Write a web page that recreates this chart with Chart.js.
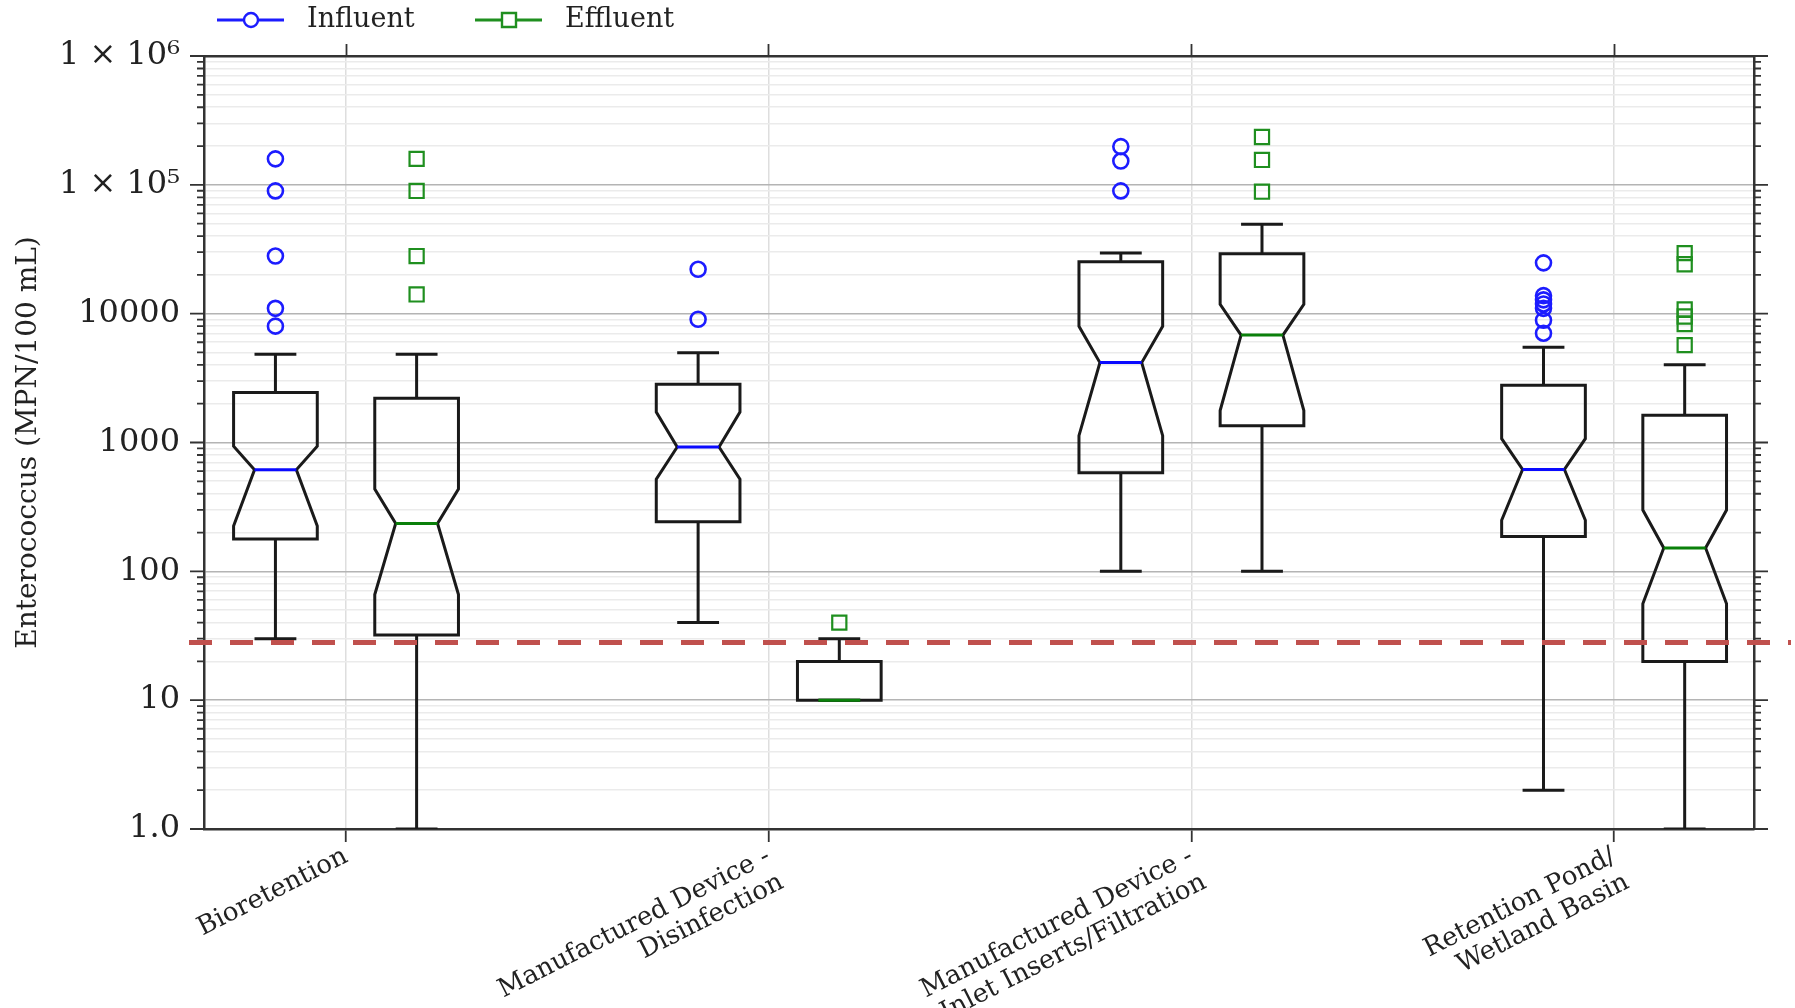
<!DOCTYPE html>
<html>
<head>
<meta charset="utf-8">
<script src="https://cdn.jsdelivr.net/npm/chart.js@4.4.1/dist/chart.umd.min.js"></script>
<style>
body{margin:0;background:#fff}
#wrap{width:1795px;height:1008px;position:relative}
</style>
</head>
<body>
<div id="wrap"><canvas id="myChart"></canvas></div>
<script>
const categories=[['Bioretention'],['Manufactured Device -','Disinfection'],['Manufactured Device -','Inlet Inserts/Filtration'],['Retention Pond/','Wetland Basin']];

// influent boxes (MPN/100 mL), one value per category
const infLow=[30,40,100,2];
const infQ1=[178,243,583,186];
const infNotchLo=[225,518,1130,249];
const infMedian=[614,923,4170,617];
const infNotchHi=[935,1725,7980,1070];
const infQ3=[2440,2830,25300,2780];
const infHigh=[4850,4980,29600,5490];
const infOutliers=[[159000,89700,28000,11000,8000],[22100,9040],[198000,153000,89700],[24800,13800,12800,11900,11000,8900,7050]];

// effluent boxes
const effLow=[1,10,100,1];
const effQ1=[32,10,1350,20];
const effNotchLo=[66,null,1770,56];
const effMedian=[235,10,6820,152];
const effNotchHi=[435,null,11800,299];
const effQ3=[2210,20,29200,1630];
const effHigh=[4850,30,49400,4010];
const effOutliers=[[159000,89700,28000,14100],[40],[235000,156000,88500],[29500,24200,10800,9500,8300,5700]];

const threshold=28;
const decades=[1,10,100,1000,10000,100000,1000000];
const decadeLabels=['1.0','10','100','1000','10000','1 × 10⁵','1 × 10⁶'];

const FONT='"DejaVu Serif"';
const shift=0.167, boxHalf=0.099;
const blue='#1c1cff', green='#1f8f1f';

let yTicks=[];
decades.forEach((d,k)=>{
    if(k<decades.length-1){ for(let m=1;m<10;m++) yTicks.push(d*m); }
    else yTicks.push(d);
});

function outlierPoints(list,dx){
    let pts=[];
    list.forEach((vals,i)=>vals.forEach(v=>pts.push({x:i+1+dx,y:v})));
    return pts;
}

function drawBox(ctx,xs,ys,cx,s,medColor){
    let x=xs.getPixelForValue(cx);
    let hw=xs.getPixelForValue(cx+boxHalf)-x;
    let l=x-hw,r=x+hw;
    let py=v=>ys.getPixelForValue(v);
    ctx.strokeStyle='#1a1a1a';
    ctx.lineWidth=3;
    ctx.lineJoin='miter';
    ctx.beginPath();
    ctx.moveTo(x,py(s.q3)); ctx.lineTo(x,py(s.high));
    ctx.moveTo(x-hw/2,py(s.high)); ctx.lineTo(x+hw/2,py(s.high));
    ctx.moveTo(x,py(s.q1)); ctx.lineTo(x,py(s.low));
    ctx.moveTo(x-hw/2,py(s.low)); ctx.lineTo(x+hw/2,py(s.low));
    ctx.stroke();
    ctx.beginPath();
    if(s.nlo==null){
        ctx.rect(l,py(s.q3),2*hw,py(s.q1)-py(s.q3));
    }else{
        ctx.moveTo(l,py(s.q1)); ctx.lineTo(r,py(s.q1));
        ctx.lineTo(r,py(s.nlo)); ctx.lineTo(x+hw/2,py(s.med)); ctx.lineTo(r,py(s.nhi));
        ctx.lineTo(r,py(s.q3)); ctx.lineTo(l,py(s.q3));
        ctx.lineTo(l,py(s.nhi)); ctx.lineTo(x-hw/2,py(s.med)); ctx.lineTo(l,py(s.nlo));
        ctx.closePath();
    }
    ctx.stroke();
    ctx.strokeStyle=medColor;
    ctx.beginPath();
    ctx.moveTo(x-hw/2,py(s.med)); ctx.lineTo(x+hw/2,py(s.med));
    ctx.stroke();
}

const boxPlugin={
    id:'boxes',
    beforeDatasetsDraw(chart){
        const ctx=chart.ctx, xs=chart.scales.x, ys=chart.scales.y, a=chart.chartArea;
        ctx.save();
        ctx.beginPath(); ctx.rect(a.left,a.top,a.width,a.height); ctx.clip();
        categories.forEach((c,i)=>{
            drawBox(ctx,xs,ys,i+1-shift,{low:infLow[i],q1:infQ1[i],nlo:infNotchLo[i],med:infMedian[i],nhi:infNotchHi[i],q3:infQ3[i],high:infHigh[i]},'#0a0aff');
            drawBox(ctx,xs,ys,i+1+shift,{low:effLow[i],q1:effQ1[i],nlo:effNotchLo[i],med:effMedian[i],nhi:effNotchHi[i],q3:effQ3[i],high:effHigh[i]},'#0a800a');
        });
        ctx.restore();
    },
    afterDatasetsDraw(chart){
        // threshold line, runs a bit past the frame like the original
        const ctx=chart.ctx, a=chart.chartArea;
        let y=chart.scales.y.getPixelForValue(threshold);
        ctx.save();
        ctx.strokeStyle='#c0504d';
        ctx.lineWidth=5;
        ctx.setLineDash([23,18]);
        ctx.beginPath();
        ctx.moveTo(a.left-15,y); ctx.lineTo(chart.width-4,y);
        ctx.stroke();
        ctx.restore();
    },
    afterDraw(chart){
        const ctx=chart.ctx, a=chart.chartArea;
        ctx.save();
        // log tick marks, long at decades
        ctx.strokeStyle='#333';
        ctx.lineWidth=1.8;
        ctx.beginPath();
        ['y','y2'].forEach(id=>{
            const s=chart.scales[id];
            const left=id==='y';
            const edge=left?a.left:a.right;
            s.ticks.forEach(t=>{
                let p=s.getPixelForValue(t.value);
                let len=decades.includes(t.value)?14:7;
                ctx.moveTo(edge,p); ctx.lineTo(left?edge-len:edge+len,p);
            });
        });
        ctx.stroke();
        // legend
        const items=[{ds:0,x:217},{ds:1,x:475}];
        ctx.font='27px '+FONT;
        ctx.textBaseline='middle';
        ctx.textAlign='left';
        items.forEach(it=>{
            const d=chart.data.datasets[it.ds];
            const y=20;
            ctx.strokeStyle=d.borderColor;
            ctx.lineWidth=3;
            ctx.beginPath(); ctx.moveTo(it.x,y); ctx.lineTo(it.x+67,y); ctx.stroke();
            let cx=it.x+34;
            ctx.fillStyle='#fff';
            ctx.lineWidth=2.4;
            ctx.beginPath();
            if(d.pointStyle==='circle') ctx.arc(cx,y,7,0,Math.PI*2);
            else ctx.rect(cx-7,y-7,14,14);
            ctx.fill(); ctx.stroke();
            ctx.fillStyle='#222';
            ctx.fillText(d.label,it.x+90,y);
        });
        ctx.restore();
    }
};

const xMin=0.664, xMax=4.331;
const catTicks=s=>{ s.ticks=categories.map((c,i)=>({value:i+1})); };
const logTicks=s=>{ s.ticks=yTicks.map(v=>({value:v})); };

Chart.defaults.font.family=FONT;
const ctx=document.getElementById('myChart').getContext('2d');
const myChart=new Chart(ctx,{
    type:'scatter',
    data:{
        datasets:[{
            label:'Influent',
            data:outlierPoints(infOutliers,-shift),
            pointStyle:'circle',
            pointRadius:7.5,
            borderWidth:2.6,
            borderColor:blue,
            backgroundColor:'rgba(255,255,255,0)'
        },{
            label:'Effluent',
            data:outlierPoints(effOutliers,shift),
            pointStyle:'rect',
            pointRadius:10,
            borderWidth:2.2,
            borderColor:green,
            backgroundColor:'rgba(255,255,255,0)'
        }]
    },
    options:{
        responsive:true,
        maintainAspectRatio:false,
        animation:false,
        events:[],
        layout:{padding:0},
        plugins:{legend:{display:false},tooltip:{enabled:false}},
        scales:{
            x:{
                type:'linear',position:'bottom',min:xMin,max:xMax,
                afterBuildTicks:catTicks,
                afterFit:s=>{s.height=179},
                ticks:{autoSkip:false,minRotation:27,maxRotation:27,padding:0,color:'#222',
                    font:{family:FONT,size:26,lineHeight:1.12},
                    callback:v=>categories[v-1]},
                grid:{color:'#dedede',lineWidth:1.5,tickLength:13,tickColor:'#333',tickWidth:1.8},
                border:{color:'#333',width:2.5}
            },
            x2:{
                type:'linear',position:'top',min:xMin,max:xMax,
                afterBuildTicks:catTicks,
                afterFit:s=>{s.height=56},
                ticks:{display:false},
                grid:{drawOnChartArea:false,tickLength:12,tickColor:'#333',tickWidth:1.8},
                border:{color:'#333',width:2.5}
            },
            y:{
                type:'logarithmic',position:'left',min:1,max:1000000,
                afterBuildTicks:logTicks,
                afterFit:s=>{s.width=204},
                ticks:{autoSkip:false,padding:24,color:'#222',font:{family:FONT,size:32},
                    callback:v=>{let k=decades.indexOf(v);return k<0?'':decadeLabels[k];}},
                grid:{drawTicks:false,lineWidth:1.6,
                    color:c=>(c.tick&&decades.includes(c.tick.value))?'#b4b4b4':'#ebebeb'},
                border:{color:'#333',width:2.5},
                title:{display:true,text:'Enterococcus (MPN/100 mL)',color:'#222',
                    font:{family:FONT,size:28},padding:{top:12,bottom:0}}
            },
            y2:{
                type:'logarithmic',position:'right',min:1,max:1000000,
                afterBuildTicks:logTicks,
                afterFit:s=>{s.width=41},
                ticks:{display:false},
                grid:{drawOnChartArea:false,drawTicks:false},
                border:{color:'#333',width:2.5}
            }
        }
    },
    plugins:[boxPlugin]
});
</script>
</body>
</html>
